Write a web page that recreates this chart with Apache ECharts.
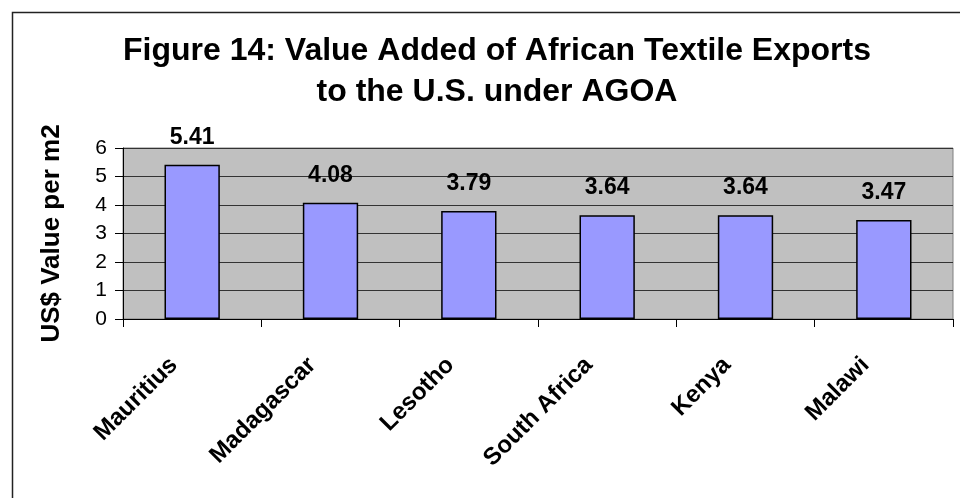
<!DOCTYPE html>
<html>
<head>
<meta charset="utf-8">
<script src="https://cdn.jsdelivr.net/npm/echarts@6/dist/echarts.min.js"></script>
<style>
  html, body { margin: 0; padding: 0; background: #fff; }
  #chart { width: 960px; height: 498px; }
</style>
</head>
<body>
<div id="chart"></div>
<script>
// data
const countries = ['Mauritius', 'Madagascar', 'Lesotho', 'South Africa', 'Kenya', 'Malawi']
const valuePerM2 = [5.41, 4.08, 3.79, 3.64, 3.64, 3.47]
const yTicks = [0, 1, 2, 3, 4, 5, 6]

const font = 'Arial, "Liberation Sans", sans-serif'

const myChart = echarts.init(document.getElementById('chart'))
myChart.setOption({
  animation: false,
  backgroundColor: '#ffffff',
  title: {
    text: 'Figure 14: Value Added of African Textile Exports\nto the U.S. under AGOA',
    left: 492,
    textAlign: 'center',
    top: 26,
    textStyle: {
      fontFamily: font,
      fontWeight: 'bold',
      fontSize: 32,
      lineHeight: 41,
      color: '#000'
    }
  },
  graphic: [
    {
      type: 'rect',
      left: 10,
      top: 10,
      shape: { width: 1000, height: 600 },
      style: { fill: 'none', stroke: '#222', lineWidth: 1.5 },
      z: 100
    }
  ],
  grid: {
    left: 123,
    top: 148,
    right: 7,
    bottom: 179,
    show: true,
    backgroundColor: '#c0c0c0',
    borderColor: '#808080',
    borderWidth: 1
  },
  xAxis: {
    type: 'category',
    data: countries,
    axisLine: { lineStyle: { color: '#000', width: 1 } },
    axisTick: { show: true, length: 8, lineStyle: { color: '#000' } },
    axisLabel: {
      rotate: 45,
      interval: 0,
      margin: 24,
      padding: [0, 26, 0, 0],
      fontFamily: font,
      fontWeight: 'bold',
      fontSize: 24,
      color: '#000'
    }
  },
  yAxis: {
    type: 'value',
    min: yTicks[0],
    max: yTicks[yTicks.length - 1],
    interval: 1,
    name: 'US$ Value per m2',
    nameLocation: 'center',
    nameGap: 58,
    nameTextStyle: {
      fontFamily: font,
      fontWeight: 'bold',
      fontSize: 26,
      color: '#000'
    },
    axisLine: { show: true, lineStyle: { color: '#000', width: 1 } },
    axisTick: { show: true, length: 8, lineStyle: { color: '#000' } },
    axisLabel: {
      margin: 16,
      fontFamily: font,
      fontSize: 21,
      color: '#000'
    },
    splitLine: { lineStyle: { color: '#333', width: 1 } }
  },
  series: [
    {
      type: 'bar',
      data: valuePerM2,
      barWidth: '40%',
      itemStyle: { color: '#9999ff', borderColor: '#000', borderWidth: 1.5 },
      label: {
        show: true,
        position: 'top',
        distance: 16,
        fontFamily: font,
        fontWeight: 'bold',
        fontSize: 23,
        color: '#000',
        formatter: p => p.value.toFixed(2)
      }
    }
  ]
})
window.addEventListener('resize', function() {
  myChart.resize()
})
</script>
</body>
</html>
